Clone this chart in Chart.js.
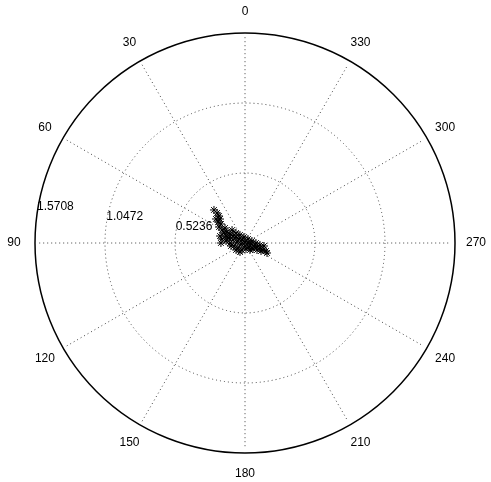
<!DOCTYPE html>
<html>
<head>
<meta charset="utf-8">
<script src="https://cdn.jsdelivr.net/npm/chart.js@4/dist/chart.umd.min.js"></script>
<style>
  html, body { margin: 0; padding: 0; background: #fff; }
  canvas { display: block; }
</style>
</head>
<body>
<canvas id="polar" width="491" height="482"></canvas>
<script>
(() => {
  'use strict';

  // ── Data (angle in degrees, radius in radians-units as in the plot) ─────────

  const THETA_DEG = [
    43.2, 43.0, 43.9, 46.2, 52.1, 51.6, 58.4, 60.5, 64.5, 74.4,
    80.1, 90.0, 69.8, 73.6, 50.4, 58.6, 59.0, 59.7, 56.3, 56.3,
    45.0, 0.0, 270.0, 260.5, 251.6, 251.6, 251.6, 248.7, 249.1, 72.6,
    76.0, 82.9, 104.0, 180.0, 225.0, 233.1, 239.7, 243.4, 45.0, 42.0,
    32.0, 9.5, 323.1, 285.9, 270.0, 262.4, 125.5, 156.8, 105.3, 261.0,
    90.0, 53.1, 215.5, 189.5, 245.6, 102.1, 127.9, 150.9, 84.0
  ];

  const RHO = [
    0.339, 0.307, 0.280, 0.259, 0.256, 0.229, 0.228, 0.198, 0.174, 0.194,
    0.175, 0.180, 0.151, 0.133, 0.282, 0.158, 0.131, 0.104, 0.081, 0.054,
    0.032, 0.007, 0.022, 0.046, 0.071, 0.095, 0.118, 0.144, 0.168, 0.125,
    0.092, 0.060, 0.031, 0.022, 0.042, 0.075, 0.104, 0.134, 0.137, 0.101,
    0.071, 0.045, 0.037, 0.054, 0.082, 0.113, 0.064, 0.057, 0.085, 0.144,
    0.112, 0.187, 0.064, 0.045, 0.181, 0.107, 0.085, 0.077, 0.143
  ];

  const ANGLE_TICKS = [0, 30, 60, 90, 120, 150, 180, 210, 240, 270, 300, 330];
  const RHO_TICKS = [0.5236, 1.0472, 1.5708];
  const RHO_LABELS = ['0.5236', '1.0472', '1.5708'];

  const RMAX = RHO_TICKS[RHO_TICKS.length - 1];
  const FONT = '12px "Liberation Sans", Arial, sans-serif';
  const RAD = Math.PI / 180;

  // 0 at top, angles increase counter-clockwise
  const toXY = (deg, r) => ({ x: -r * Math.sin(deg * RAD), y: r * Math.cos(deg * RAD) });

  const points = THETA_DEG.map((t, i) => toXY(t, RHO[i]));

  // ── Polar grid drawn through the chart's x/y scales ─────────────────────────

  const polarGrid = {
    id: 'polarGrid',
    beforeDatasetsDraw(chart) {
      const { ctx, scales: { x, y } } = chart;
      const cx = x.getPixelForValue(0);
      const cy = y.getPixelForValue(0);
      const px = v => x.getPixelForValue(v) - cx;

      ctx.save();

      // dotted spokes
      ctx.strokeStyle = '#444';
      ctx.lineWidth = 1;
      ctx.setLineDash([1, 3]);
      for (let a = 0; a < 180; a += 30) {
        const p1 = toXY(a, RMAX * 0.98);
        const p2 = toXY(a + 180, RMAX * 0.98);
        ctx.beginPath();
        ctx.moveTo(x.getPixelForValue(p1.x), y.getPixelForValue(p1.y));
        ctx.lineTo(x.getPixelForValue(p2.x), y.getPixelForValue(p2.y));
        ctx.stroke();
      }

      // dotted inner rings
      RHO_TICKS.slice(0, -1).forEach(r => {
        ctx.beginPath();
        ctx.arc(cx, cy, px(r), 0, Math.PI * 2);
        ctx.stroke();
      });

      // solid outer ring
      ctx.setLineDash([]);
      ctx.strokeStyle = '#000';
      ctx.lineWidth = 1.5;
      ctx.beginPath();
      ctx.arc(cx, cy, px(RMAX), 0, Math.PI * 2);
      ctx.stroke();

      // labels
      ctx.fillStyle = '#000';
      ctx.font = FONT;

      // angle labels
      ctx.textAlign = 'center';
      ctx.textBaseline = 'middle';
      ANGLE_TICKS.forEach(a => {
        const p = toXY(a, RMAX * 1.1);
        ctx.fillText(String(a), x.getPixelForValue(p.x), y.getPixelForValue(p.y));
      });

      // radius labels
      ctx.textAlign = 'left';
      ctx.textBaseline = 'bottom';
      RHO_TICKS.forEach((r, i) => {
        const p = toXY(82, r);
        ctx.fillText(RHO_LABELS[i], x.getPixelForValue(p.x), y.getPixelForValue(p.y) - 1);
      });

      ctx.restore();
    },
  };

  // ── Chart ───────────────────────────────────────────────────────────────────

  new Chart(document.getElementById('polar').getContext('2d'), {
    type: 'scatter',
    data: {
      datasets: [{
        data: points,
        pointStyle: 'star',
        pointRadius: 4,
        pointBorderColor: '#000',
        pointBackgroundColor: '#000',
        pointBorderWidth: 1,
        showLine: false,
      }],
    },
    options: {
      responsive: false,
      animation: false,
      events: [],
      layout: { padding: { left: 35, right: 36, top: 33, bottom: 29 } },
      plugins: {
        legend: { display: false },
        tooltip: { enabled: false },
      },
      scales: {
        x: { type: 'linear', min: -RMAX, max: RMAX, display: false },
        y: { type: 'linear', min: -RMAX, max: RMAX, display: false },
      },
    },
    plugins: [polarGrid],
  });
})();
</script>
</body>
</html>
